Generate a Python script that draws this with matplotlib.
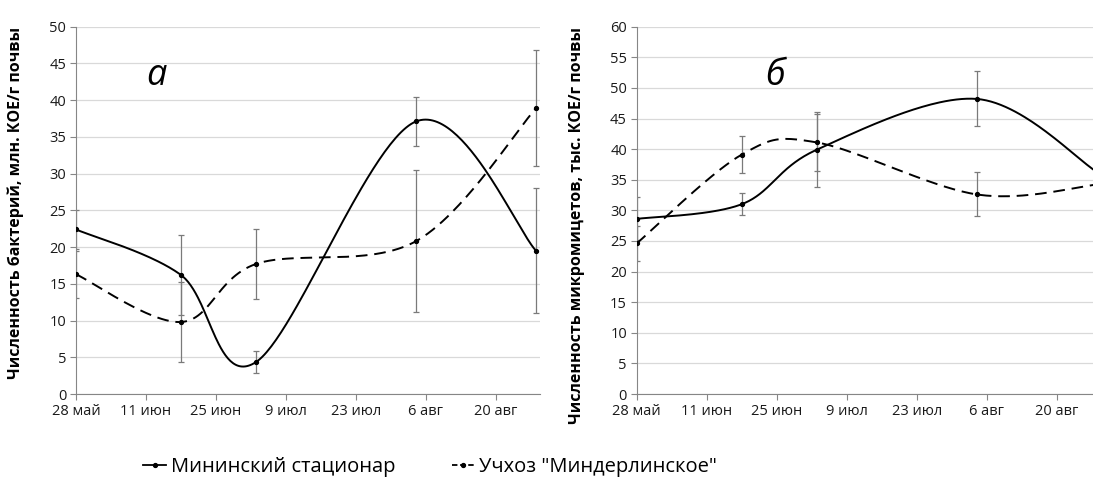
import numpy as np
import matplotlib.pyplot as plt
from matplotlib.lines import Line2D

plt.rcParams['font.family'] = ['Open Sans', 'DejaVu Sans']

# days after 28 May
tick_days = [0, 14, 28, 42, 56, 70, 84]
tick_labels = ['28 май', '11 июн', '25 июн', '9 июл', '23 июл', '6 авг', '20 авг']
sample_days = [0, 21, 36, 68, 92]

# panel a: bacteria, mln CFU/g soil
bact_min = [22.4, 16.2, 4.35, 37.1, 19.5]
bact_min_err = [2.6, 5.4, 1.5, 3.3, 8.5]
bact_uch = [16.3, 9.8, 17.7, 20.8, 38.9]
bact_uch_err = [3.2, 5.4, 4.7, 9.7, 7.9]

# panel b: micromycetes, thous. CFU/g soil (last point lies just past the image edge)
fung_min = [28.6, 31.0, 39.9, 48.2, 36.3]
fung_min_err = [3.5, 1.8, 6.1, 4.5, 3.0]
fung_uch = [24.6, 39.1, 41.1, 32.6, 34.2]
fung_uch_err = [2.8, 3.0, 4.6, 3.6, 3.0]

W, H = 1093, 479


def smooth(x, y, xlim, ylim, wpx, hpx, n=60):
    # Excel-like smoothed line: Catmull-Rom through points, done in pixel space
    P = np.column_stack([(np.array(x) - xlim[0]) / (xlim[1] - xlim[0]) * wpx,
                         (np.array(y) - ylim[0]) / (ylim[1] - ylim[0]) * hpx])
    out = []
    t = np.linspace(0, 1, n)[:, None]
    for i in range(len(P) - 1):
        p0 = P[i - 1] if i > 0 else P[i]
        p3 = P[i + 2] if i + 2 < len(P) else P[i + 1]
        c1 = P[i] + (P[i + 1] - p0) / 6
        c2 = P[i + 1] - (p3 - P[i]) / 6
        seg = ((1 - t) ** 3 * P[i] + 3 * (1 - t) ** 2 * t * c1
               + 3 * (1 - t) * t ** 2 * c2 + t ** 3 * P[i + 1])
        out.append(seg)
    out = np.vstack(out)
    xs = out[:, 0] / wpx * (xlim[1] - xlim[0]) + xlim[0]
    ys = out[:, 1] / hpx * (ylim[1] - ylim[0]) + ylim[0]
    return xs, ys


def panel(rect, days, s1, e1, s2, e2, xlim, ylim, ylabel, label_y):
    ax = fig.add_axes(rect)
    wpx, hpx = rect[2] * W, rect[3] * H
    for s, e, ls in [(s1, e1, '-'), (s2, e2, (0, (6, 3.5)))]:
        ax.errorbar(days, s, yerr=e, fmt='none', ecolor='#7a7a7a',
                    elinewidth=0.9, capsize=2.5, capthick=0.9, zorder=2)
        xs, ys = smooth(days, s, xlim, ylim, wpx, hpx)
        ax.plot(xs, ys, color='black', lw=1.4, ls=ls, zorder=3)
        ax.plot(days, s, 'o', color='black', ms=2.8, zorder=4)
    ax.set_xlim(xlim)
    ax.set_ylim(ylim)
    ax.set_xticks(tick_days)
    ax.set_xticklabels(tick_labels)
    ax.set_yticks(np.arange(ylim[0], ylim[1] + 1, 5))
    ax.yaxis.grid(True, color='#d9d9d9', lw=0.9)
    ax.set_axisbelow(True)
    for sp in ['top', 'right']:
        ax.spines[sp].set_visible(False)
    for sp in ['left', 'bottom']:
        ax.spines[sp].set_color('#868686')
    ax.tick_params(axis='both', colors='#868686', labelcolor='#1a1a1a',
                   labelsize=10.5, length=4, pad=3)
    ax.set_ylabel(ylabel, fontsize=11.5, fontweight='bold')
    ax.yaxis.set_label_coords(-52 / wpx, label_y)
    return ax


fig = plt.figure(figsize=(W / 100, H / 100), dpi=100)

bot = (H - 394) / H
hgt = (394 - 26.7) / H
ax1 = panel([76 / W, bot, 464 / W, hgt], sample_days, bact_min, bact_min_err,
            bact_uch, bact_uch_err, (0, 92.8), (0, 50),
            'Численность бактерий, млн. КОЕ/г почвы', 0.52)
ax2 = panel([636.7 / W, bot, 464 / W, hgt], sample_days, fung_min, fung_min_err,
            fung_uch, fung_uch_err, (0, 92.8), (0, 60),
            'Численность микромицетов, тыс. КОЕ/г почвы', 0.46)

fig.text(156 / W, 1 - 85 / H, 'а', fontsize=26, style='italic', ha='center', va='baseline')
fig.text(775 / W, 1 - 85 / H, 'б', fontsize=26, style='italic', ha='center', va='baseline')

handles = [Line2D([], [], color='black', lw=1.3, marker='o', ms=2.8),
           Line2D([], [], color='black', lw=1.3, ls=(0, (3, 1.5)), marker='o', ms=2.8)]
fig.legend(handles, ['Мининский стационар', 'Учхоз "Миндерлинское"'],
           loc='center', bbox_to_anchor=(430 / W, 1 - 467 / H), ncol=2,
           frameon=False, fontsize=14.5, handlelength=1.1, handletextpad=0.25,
           columnspacing=2.8)

fig.savefig('out.png', dpi=100)
